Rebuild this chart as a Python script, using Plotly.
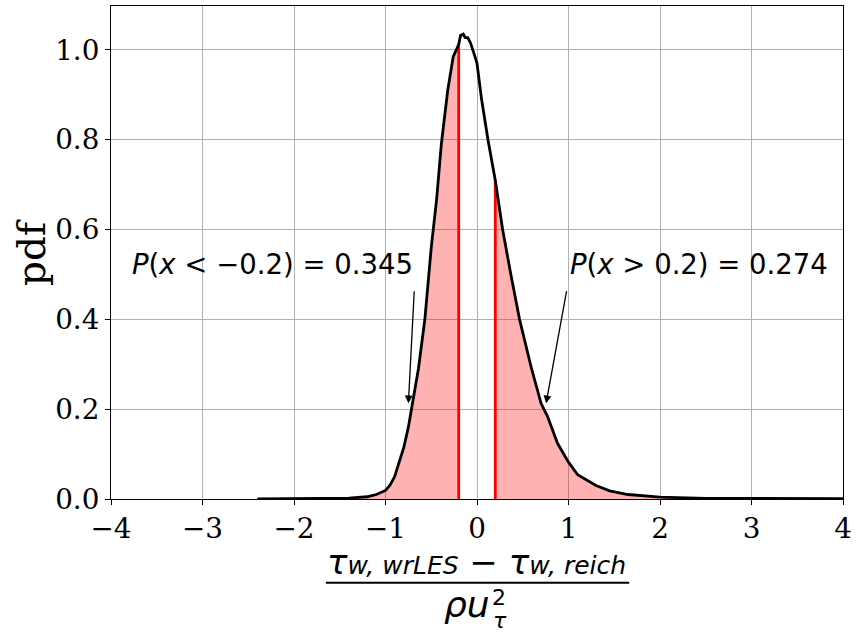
import numpy as np
import plotly.graph_objects as go

# ---- data ----
x_vals = [-2.40, -2.0, -1.6, -1.4, -1.2, -1.1, -1.0, -0.95, -0.9, -0.85, -0.8, -0.75,
          -0.7, -0.64, -0.57, -0.5, -0.44, -0.39, -0.32, -0.26, -0.2, -0.18, -0.15,
          -0.13, -0.10, -0.07, -0.03, 0.0, 0.05, 0.12, 0.2, 0.28, 0.37, 0.465, 0.59,
          0.70, 0.77, 0.88, 1.0, 1.1, 1.3, 1.45, 1.65, 2.0, 2.5, 3.0, 3.5, 4.0, 4.5]
pdf_vals = [0.0005, 0.0008, 0.0012, 0.002, 0.005, 0.010, 0.019, 0.031, 0.05, 0.08, 0.115,
            0.16, 0.215, 0.29, 0.40, 0.56, 0.67, 0.79, 0.91, 0.985, 1.012, 1.032, 1.035,
            1.028, 1.027, 1.015, 0.99, 0.97, 0.89, 0.80, 0.709, 0.60, 0.50, 0.40, 0.295,
            0.213, 0.184, 0.124, 0.082, 0.054, 0.030, 0.018, 0.010, 0.004, 0.0015,
            0.0008, 0.0005, 0.0003, 0.0002]
threshold_left = -0.2
threshold_right = 0.2
prob_left = 0.345
prob_right = 0.274

x_ticks = [-4, -3, -2, -1, 0, 1, 2, 3, 4]
x_ticklabels = ["\u22124", "\u22123", "\u22122", "\u22121", "0", "1", "2", "3", "4"]
y_ticks = [0.0, 0.2, 0.4, 0.6, 0.8, 1.0]
y_ticklabels = ["0.0", "0.2", "0.4", "0.6", "0.8", "1.0"]

x = np.array(x_vals)
p = np.array(pdf_vals)

# ---- layout geometry (pixels) ----
W, H = 857, 633
L, R, T, B = 111, 10, 5, 134
pw, ph = W - L - R, H - T - B


def px(xp):
    return (xp - L) / pw


def py(yp):
    return (H - B - yp) / ph


fig = go.Figure()

fill_col = "rgba(255,0,0,0.3)"
mL = x <= threshold_left
mR = x >= threshold_right
fig.add_trace(go.Scatter(x=x[mL], y=p[mL], mode="lines", line=dict(width=0, color=fill_col),
                         fill="tozeroy", fillcolor=fill_col, hoverinfo="skip", showlegend=False))
fig.add_trace(go.Scatter(x=x[mR], y=p[mR], mode="lines", line=dict(width=0, color=fill_col),
                         fill="tozeroy", fillcolor=fill_col, hoverinfo="skip", showlegend=False))

for t in (threshold_left, threshold_right):
    h = float(np.interp(t, x, p))
    fig.add_trace(go.Scatter(x=[t, t], y=[0, h], mode="lines",
                             line=dict(color="#ff0000", width=2.8), showlegend=False))

fig.add_trace(go.Scatter(x=x, y=p, mode="lines", line=dict(color="black", width=2.8),
                         showlegend=False))

axis_common = dict(showgrid=True, gridcolor="#b0b0b0", gridwidth=1,
                   showline=True, linecolor="black", linewidth=1.1, mirror=True,
                   ticks="outside", ticklen=5, tickwidth=1.1, tickcolor="black",
                   zeroline=False,
                   tickfont=dict(family="DejaVu Serif", size=27.8, color="black"))

fig.update_xaxes(range=[-4, 4], tickvals=x_ticks, ticktext=x_ticklabels, **axis_common)
fig.update_yaxes(range=[0, 1.0978], tickvals=y_ticks, ticktext=y_ticklabels, **axis_common)

math_font = dict(family="DejaVu Sans", size=27.5, color="black")
fig.add_annotation(x=-2.236, y=0.523, xref="x", yref="y", showarrow=False,
                   text=f"<i>P</i>(<i>x</i> &lt; \u2212{abs(threshold_left)}) = {prob_left}",
                   font=math_font, xanchor="center", yanchor="middle")
fig.add_annotation(x=2.43, y=0.523, xref="x", yref="y", showarrow=False,
                   text=f"<i>P</i>(<i>x</i> &gt; {threshold_right}) = {prob_right}",
                   font=math_font, xanchor="center", yanchor="middle")

arrow = dict(showarrow=True, arrowhead=2, arrowsize=1.2, arrowwidth=1.3, arrowcolor="black",
             xref="x", yref="y", axref="x", ayref="y", text="")
fig.add_annotation(x=-0.75, y=0.213, ax=-0.685, ay=0.466, **arrow)
fig.add_annotation(x=0.755, y=0.213, ax=0.982, ay=0.466, **arrow)

# y-axis title
fig.add_annotation(x=px(31), y=py(252), xref="paper", yref="paper", showarrow=False,
                   text="pdf", textangle=-90, xanchor="center", yanchor="middle",
                   font=dict(family="DejaVu Serif", size=38.9, color="black"))

# x-axis title as a fraction
num = ("<i>\u03c4</i><span style=\"font-size:25px\"><i>w, wrLES</i></span> \u2212 "
       "<i>\u03c4</i><span style=\"font-size:25px\"><i>w, reich</i></span>")
fig.add_annotation(x=px(478), y=py(562), xref="paper", yref="paper", showarrow=False,
                   text=num, xanchor="center", yanchor="middle",
                   font=dict(family="DejaVu Sans", size=34, color="black"))
fig.add_shape(type="line", xref="paper", yref="paper", x0=px(327), x1=px(632),
              y0=py(583), y1=py(583), line=dict(color="black", width=2))
fig.add_annotation(x=px(468.5), y=py(605), xref="paper", yref="paper", showarrow=False,
                   text="<i>\u03c1u</i>", xanchor="center", yanchor="middle",
                   font=dict(family="DejaVu Sans", size=36, color="black"))
fig.add_annotation(x=px(501.5), y=py(598), xref="paper", yref="paper", showarrow=False,
                   text="2", xanchor="center", yanchor="middle",
                   font=dict(family="DejaVu Sans", size=22, color="black"))
fig.add_annotation(x=px(502), y=py(621), xref="paper", yref="paper", showarrow=False,
                   text="<i>\u03c4</i>", xanchor="center", yanchor="middle",
                   font=dict(family="DejaVu Sans", size=22, color="black"))

fig.update_layout(width=W, height=H, margin=dict(l=L, r=R, t=T, b=B),
                  paper_bgcolor="white", plot_bgcolor="white", showlegend=False)

fig.write_html("out.html")
